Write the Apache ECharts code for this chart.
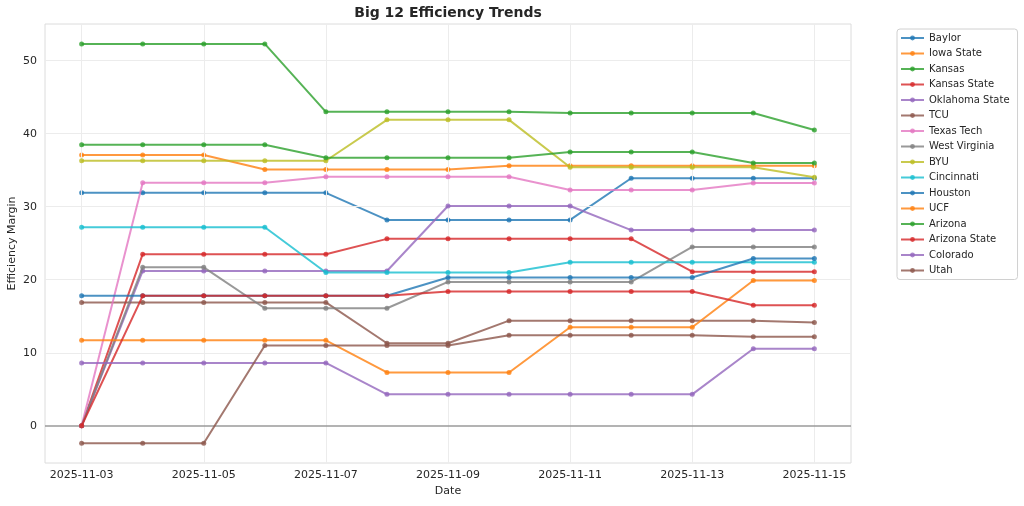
<!DOCTYPE html>
<html>
<head>
<meta charset="utf-8">
<script src="https://cdn.jsdelivr.net/npm/echarts@6/dist/echarts.min.js"></script>
<style>html,body{margin:0;padding:0;background:#fff}#c{width:1024px;height:506px}</style>
</head>
<body>
<div id="c"></div>
<script>
const dates = ['2025-11-03','2025-11-04','2025-11-05','2025-11-06','2025-11-07','2025-11-08','2025-11-09','2025-11-10','2025-11-11','2025-11-12','2025-11-13','2025-11-14','2025-11-15'];
const xTickDays = [0, 2, 4, 6, 8, 10, 12];
const yTicks = [0, 10, 20, 30, 40, 50];
const teams = ['Baylor','Iowa State','Kansas','Kansas State','Oklahoma State','TCU','Texas Tech','West Virginia','BYU','Cincinnati','Houston','UCF','Arizona','Arizona State','Colorado','Utah'];

const baylor       = [31.9,31.9,31.9,31.9,31.9,28.2,28.2,28.2,28.2,33.9,33.9,33.9,33.9];
const iowaState    = [37.1,37.1,37.1,35.1,35.1,35.1,35.1,35.6,35.6,35.6,35.6,35.6,35.6];
const kansas       = [52.3,52.3,52.3,52.3,43.0,43.0,43.0,43.0,42.85,42.85,42.85,42.85,40.5];
const kansasState  = [0,23.5,23.5,23.5,23.5,25.6,25.6,25.6,25.6,25.6,21.1,21.1,21.1];
const oklahomaSt   = [0,21.2,21.2,21.2,21.2,21.2,30.1,30.1,30.1,26.8,26.8,26.8,26.8];
const tcu          = [16.9,16.9,16.9,16.9,16.9,11.3,11.3,14.4,14.4,14.4,14.4,14.4,14.15];
const texasTech    = [0,33.3,33.3,33.3,34.1,34.1,34.1,34.1,32.3,32.3,32.3,33.25,33.25];
const westVirginia = [0,21.7,21.7,16.1,16.1,16.1,19.7,19.7,19.7,19.7,24.5,24.5,24.5];
const byu          = [36.3,36.3,36.3,36.3,36.3,41.9,41.9,41.9,35.4,35.4,35.4,35.4,34.05];
const cincinnati   = [27.2,27.2,27.2,27.2,21.0,21.0,21.0,21.0,22.4,22.4,22.4,22.4,22.4];
const houston      = [17.8,17.8,17.8,17.8,17.8,17.8,20.3,20.3,20.3,20.3,20.3,22.9,22.9];
const ucf          = [11.7,11.7,11.7,11.7,11.7,7.3,7.3,7.3,13.5,13.5,13.5,19.9,19.9];
const arizona      = [38.5,38.5,38.5,38.5,36.7,36.7,36.7,36.7,37.5,37.5,37.5,36.0,36.0];
const arizonaState = [0,17.8,17.8,17.8,17.8,17.8,18.4,18.4,18.4,18.4,18.4,16.5,16.5];
const colorado     = [8.6,8.6,8.6,8.6,8.6,4.3,4.3,4.3,4.3,4.3,4.3,10.55,10.55];
const utah         = [-2.4,-2.4,-2.4,11.0,11.0,11.0,11.0,12.4,12.4,12.4,12.4,12.2,12.2];

const values = [baylor, iowaState, kansas, kansasState, oklahomaSt, tcu, texasTech, westVirginia, byu, cincinnati, houston, ucf, arizona, arizonaState, colorado, utah];
const palette = ['#1f77b4','#ff7f0e','#2ca02c','#d62728','#9467bd','#8c564b','#e377c2','#7f7f7f','#bcbd22','#17becf'];

const FONT = 'DejaVu Sans';
const TXT = '#262626';

const gridSeries = {
  name: '_grid', type: 'line', data: [], silent: true, z: 1,
  markLine: {
    silent: true, symbol: ['none','none'], animation: false,
    label: {show: false},
    lineStyle: {color: '#ececec', width: 1, type: 'solid'},
    emphasis: {disabled: true},
    data: xTickDays.map(d => ({xAxis: d})).concat(yTicks.filter(v => v !== 0).map(v => ({yAxis: v})))
  }
};
const zeroSeries = {
  name: '_zero', type: 'line', data: [], silent: true, z: 2,
  markLine: {
    silent: true, symbol: ['none','none'], animation: false,
    label: {show: false},
    lineStyle: {color: '#9a9a9a', width: 1.5, type: 'solid'},
    emphasis: {disabled: true},
    data: [{yAxis: 0}]
  }
};

const lineSeries = teams.map((t, k) => ({
  name: t, type: 'line', z: 3 + k,
  data: values[k].map((v, i) => [i, v]),
  symbol: 'circle', symbolSize: 5, showAllSymbol: true,
  lineStyle: {width: 2, opacity: 0.8},
  itemStyle: {color: palette[k % 10], opacity: 0.8},
  color: palette[k % 10],
  emphasis: {disabled: true},
  animation: false
}));

const chart = echarts.init(document.getElementById('c'), null, {renderer: 'canvas'});
chart.setOption({
  backgroundColor: '#fff',
  animation: false,
  textStyle: {fontFamily: FONT},
  title: {
    text: 'Big 12 Efficiency Trends', left: 448, top: 6, textAlign: 'center', padding: 0,
    textStyle: {fontFamily: FONT, fontSize: 14, fontWeight: 'bold', color: TXT}
  },
  grid: {left: 45, right: 173, top: 24, bottom: 43, show: true, borderColor: '#dcdcdc', borderWidth: 1, backgroundColor: 'transparent', containLabel: false, outerBoundsMode: 'none'},
  legend: {
    orient: 'vertical', left: 897, top: 29,
    data: teams,
    itemWidth: 23, itemHeight: 6, itemGap: 5.5,
    padding: [4, 8, 4, 3],
    borderColor: '#d0d0d0', borderWidth: 1, borderRadius: 3,
    textStyle: {fontFamily: FONT, fontSize: 10, color: TXT, lineHeight: 10},
    selectedMode: false
  },
  xAxis: {
    type: 'value', min: -0.6, max: 12.6,
    name: 'Date', nameLocation: 'middle', nameGap: 23, nameMoveOverlap: false,
    nameTextStyle: {fontFamily: FONT, fontSize: 11, color: TXT},
    axisLine: {show: false}, axisTick: {show: false}, splitLine: {show: false},
    axisLabel: {
      customValues: xTickDays, margin: 7,
      fontFamily: FONT, fontSize: 11, color: TXT,
      formatter: v => dates[Math.round(v)] || ''
    }
  },
  yAxis: {
    type: 'value', min: -5.1, max: 55.03,
    name: 'Efficiency Margin', nameLocation: 'middle', nameGap: 27, nameMoveOverlap: false,
    nameTextStyle: {fontFamily: FONT, fontSize: 11, color: TXT},
    axisLine: {show: false}, axisTick: {show: false}, splitLine: {show: false},
    axisLabel: {
      customValues: yTicks, margin: 8,
      fontFamily: FONT, fontSize: 11, color: TXT,
      formatter: v => String(Math.round(v))
    }
  },
  series: [gridSeries, zeroSeries].concat(lineSeries)
});
</script>
</body>
</html>
